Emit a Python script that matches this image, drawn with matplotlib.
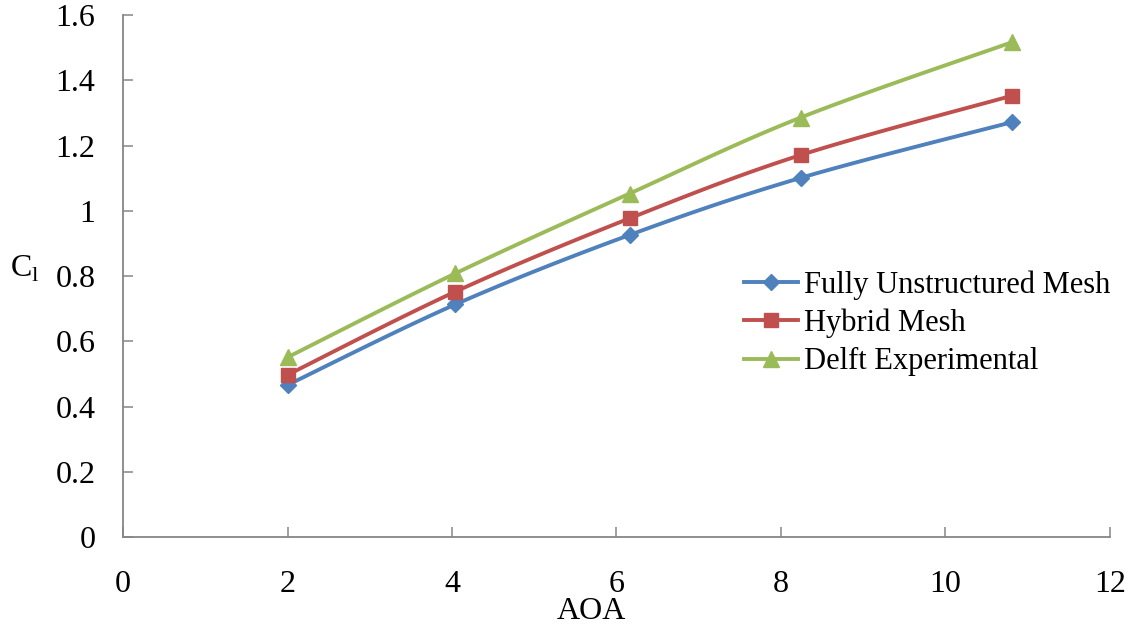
import numpy as np
import matplotlib.pyplot as plt

plt.rcParams['font.family'] = ['Liberation Serif', 'DejaVu Serif']

# Данные
aoa = [2.0, 4.04, 6.16, 8.24, 10.81]
cl_unstructured = [0.466, 0.713, 0.926, 1.101, 1.272]
cl_hybrid = [0.497, 0.752, 0.977, 1.171, 1.353]
cl_delft = [0.551, 0.808, 1.053, 1.286, 1.517]

labels = ['Fully Unstructured Mesh', 'Hybrid Mesh', 'Delft Experimental']
colors = ['#4F81BD', '#C0504D', '#9BBB59']
markers = ['D', 's', '^']
msizes = [8.5, 10.5, 11]


def smooth(x, y, n=30):
    # Сглаживание как в Excel (Catmull-Rom)
    x = np.asarray(x, float)
    y = np.asarray(y, float)
    px = np.concatenate([[x[0]], x, [x[-1]]])
    py = np.concatenate([[y[0]], y, [y[-1]]])
    xs, ys = [], []
    t = np.linspace(0, 1, n)
    for i in range(1, len(px) - 2):
        p0, p1, p2, p3 = [np.array([px[j], py[j]]) for j in range(i - 1, i + 3)]
        c1 = p1 + (p2 - p0) / 6
        c2 = p2 - (p3 - p1) / 6
        b = ((1 - t) ** 3)[:, None] * p1 + (3 * (1 - t) ** 2 * t)[:, None] * c1 \
            + (3 * (1 - t) * t ** 2)[:, None] * c2 + (t ** 3)[:, None] * p2
        xs.extend(b[:, 0])
        ys.extend(b[:, 1])
    return xs, ys


fig = plt.figure(figsize=(11.33, 6.3), dpi=100)
ax = fig.add_axes([0.1086, 0.1476, 0.871, 0.8284])

for y, lab, c, m, ms in zip([cl_unstructured, cl_hybrid, cl_delft], labels, colors, markers, msizes):
    sx, sy = smooth(aoa, y)
    ax.plot(sx, sy, color=c, lw=2.8, zorder=2)
    ax.plot(aoa, y, linestyle='none', marker=m, color=c, markersize=ms, zorder=3)
    ax.plot([], [], color=c, lw=2.8, marker=m, markersize=ms, label=lab)

ax.set_xlim(0, 12)
ax.set_ylim(0, 1.6)
ax.set_xticks(np.arange(0, 13, 2))
ax.set_yticks(np.arange(0, 1.61, 0.2))
ax.set_yticklabels(['0', '0.2', '0.4', '0.6', '0.8', '1', '1.2', '1.4', '1.6'])

for s in ['top', 'right']:
    ax.spines[s].set_visible(False)
for s in ['left', 'bottom']:
    ax.spines[s].set_color('#868686')
    ax.spines[s].set_linewidth(1.3)

ax.tick_params(axis='both', direction='in', length=7, width=1.1, color='#868686',
               labelsize=23)
ax.tick_params(axis='x', pad=24)
ax.tick_params(axis='y', pad=20)

ax.set_xlabel('AOA', fontsize=23)
ax.xaxis.set_label_coords(0.475, -0.115)
ax.set_ylabel(r'C$_\mathregular{l}$', fontsize=23, rotation=0)
ax.yaxis.set_label_coords(-0.1, 0.485)

ax.legend(loc='upper left', bbox_to_anchor=(0.617, 0.535), frameon=False,
          fontsize=22, handlelength=1.75, handletextpad=0.2, labelspacing=0.3,
          borderaxespad=0)

plt.savefig('out.png', dpi=100)
